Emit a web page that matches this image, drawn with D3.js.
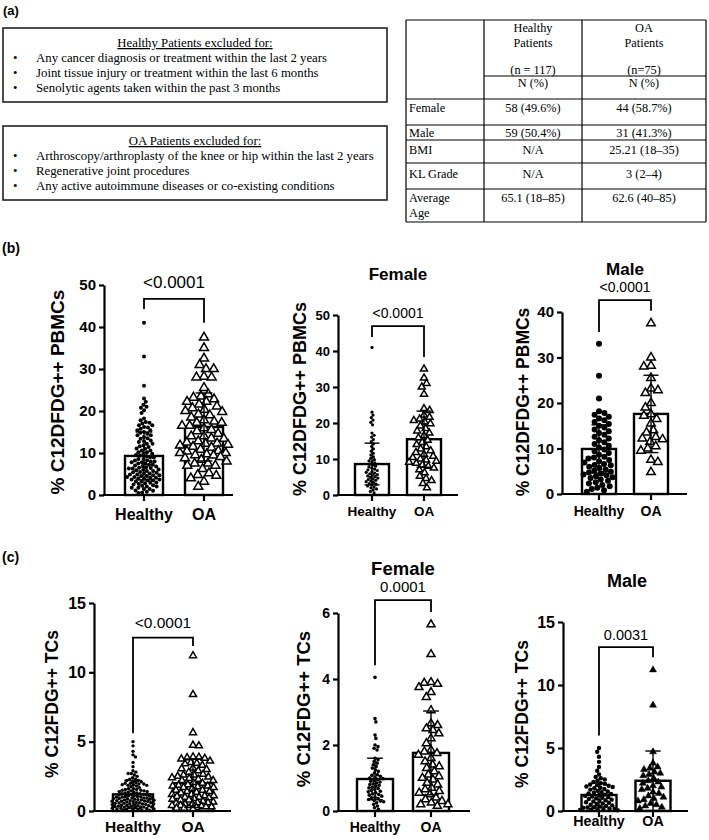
<!DOCTYPE html>
<html><head><meta charset="utf-8">
<script src="https://cdn.jsdelivr.net/npm/d3@7"></script>
<style>body{margin:0;background:#fff} svg{display:block}</style>
</head><body><svg id="fig" width="709" height="840"></svg>
<script>
// ---------------- DATA ----------------
const groups = ["Healthy", "OA"];

const healthyExclusions = [
  "Any cancer diagnosis or treatment within the last 2 years",
  "Joint tissue injury or treatment within the last 6 months",
  "Senolytic agents taken within the past 3 months"
];
const oaExclusions = [
  "Arthroscopy/arthroplasty of the knee or hip within the last 2 years",
  "Regenerative joint procedures",
  "Any active autoimmune diseases or co-existing conditions"
];
const tableHeadHealthy = ["Healthy", "Patients", "(n = 117)", "N (%)"];
const tableHeadOA = ["OA", "Patients", "(n=75)", "N (%)"];
const tableRowLabels = [["Female"], ["Male"], ["BMI"], ["KL Grade"], ["Average", "Age"]];
const tableHealthy = ["58 (49.6%)", "59 (50.4%)", "N/A", "N/A", "65.1 (18\u201385)"];
const tableOA = ["44 (58.7%)", "31 (41.3%)", "25.21 (18\u201335)", "3 (2\u20134)", "62.6 (40\u201385)"];

// % C12DFDG++ PBMCs
const femPbmcHealthy = [41, 23, 22.2, 21.5, 20.8, 20.2, 19.5, 17.2, 16.6, 16.1, 15.4, 14.8, 14.2, 13.5, 12.8, 12.2, 11.6, 11.1, 10.6, 10.2,
  9.8, 9.5, 9.2, 8.9, 8.6, 8.3, 8.0, 7.8, 7.5, 7.2, 7.0, 6.8, 6.5, 6.3, 6.1, 5.9, 5.7, 5.5, 5.3, 5.1,
  4.9, 4.7, 4.5, 4.3, 4.1, 3.9, 3.7, 3.5, 3.2, 3.0, 2.8, 2.5, 2.2, 2.0, 1.7, 1.4, 1.0, 0.6];
const femPbmcOA = [35, 32.5, 31, 30, 28, 24, 23.5, 22.2, 21.6, 21.1, 20.7, 20.3, 19.8, 19.2, 18.5, 17.8, 17.2, 16.5, 15.9, 15.2,
  14.6, 14, 13.4, 12.8, 12.3, 11.8, 11.3, 10.8, 10.4, 10, 9.7, 9.4, 9.1, 8.8, 8.4, 8, 7.5, 7, 6.2, 5.2, 4.6, 4, 3.2, 2];
const malePbmcHealthy = [33, 26, 21, 18.2, 17.8, 17.4, 17, 16.6, 16.2, 15.8, 15.4, 15, 14.6, 14.2, 13.8, 13.4, 13, 12.6, 12.2, 11.8,
  11.4, 11, 10.6, 10.2, 9.8, 9.4, 9, 8.6, 8.2, 8.0, 7.8, 7.5, 7.2, 6.9, 6.6, 6.4, 6.3, 6, 5.7, 5.4,
  5.1, 4.9, 4.7, 4.5, 4.3, 4.1, 3.9, 3.7, 3.5, 3.2, 2.9, 2.6, 2.3, 2, 1.7, 1.4, 1.1, 0.8, 0.5];
const malePbmcOA = [37.5, 30, 28.2, 28, 25.5, 23.2, 22.8, 22.2, 20, 19, 17.5, 17.2, 16.5, 15.5, 14, 13.5, 12.5, 12.2, 12, 11.5,
  10.5, 10, 9.5, 7.5, 7, 4.8];

// % C12FDG++ TCs
const femTcHealthy = [4.05, 2.8, 2.7, 2.3, 2.2, 2.0, 1.95, 1.9, 1.85, 1.6, 1.55, 1.5, 1.45, 1.4, 1.35, 1.3, 1.25, 1.2, 1.15, 1.1,
  1.08, 1.05, 1.02, 1.0, 0.98, 0.95, 0.92, 0.9, 0.88, 0.85, 0.82, 0.8, 0.78, 0.75, 0.72, 0.7, 0.68, 0.65, 0.62, 0.6,
  0.58, 0.55, 0.52, 0.5, 0.48, 0.45, 0.42, 0.4, 0.38, 0.35, 0.32, 0.3, 0.28, 0.25, 0.2, 0.15, 0.1, 0.05];
const femTcOA = [5.65, 4.75, 3.9, 3.88, 3.85, 3.75, 3.6, 3.45, 3.05, 2.65, 2.6, 2.5, 2.45, 2.35, 2.2, 2.05, 1.85, 1.8, 1.75, 1.7,
  1.6, 1.5, 1.4, 1.35, 1.3, 1.2, 1.1, 1.05, 1.0, 0.95, 0.85, 0.8, 0.7, 0.65, 0.6, 0.55, 0.5, 0.4, 0.35, 0.3, 0.25, 0.2, 0.2, 0.15];
const maleTcHealthy = [5.0, 4.7, 4.3, 3.9, 3.5, 3.2, 2.9, 2.7, 2.6, 2.5, 2.4, 2.3, 2.2, 2.15, 2.1, 2.05, 2.0, 1.95, 1.9, 1.85,
  1.8, 1.75, 1.7, 1.6, 1.55, 1.5, 1.45, 1.4, 1.35, 1.3, 1.25, 1.2, 1.15, 1.1, 1.05, 1.0, 0.95, 0.9, 0.85, 0.8,
  0.75, 0.7, 0.65, 0.6, 0.55, 0.5, 0.45, 0.4, 0.35, 0.3, 0.28, 0.25, 0.2, 0.18, 0.15, 0.12, 0.1, 0.08, 0.05];
const maleTcOA = [11.2, 8.4, 4.7, 3.8, 3.5, 3.4, 3.3, 3.1, 3.0, 2.9, 2.8, 2.6, 2.4, 2.3, 2.2, 2.0, 1.9, 1.8, 1.7, 1.5,
  1.4, 1.2, 1.1, 1.0, 0.9, 0.8, 0.6, 0.5, 0.4, 0.3, 0.2];

// bar means and SDs [Healthy, OA]
const meanPbmcAll = [9.3, 16.2], sdPbmcAll = [5.7, 8.1];
const meanPbmcFem = [8.6, 15.5], sdPbmcFem = [5.8, 7.8];
const meanPbmcMale = [9.9, 17.6], sdPbmcMale = [5.3, 8.5];
const meanTcAll = [1.2, 2.0], sdTcAll = [1.0, 1.75];
const meanTcFem = [0.97, 1.76], sdTcFem = [0.63, 1.27];
const meanTcMale = [1.27, 2.4], sdTcMale = [0.95, 2.36];

// p values and bracket values [left leg end, top, right leg end]
const pPbmc = ["<0.0001", "<0.0001", "<0.0001"];
const pTc = ["<0.0001", "0.0001", "0.0031"];
const bracketPbmc = [[44.3, 46.7, 41], [43.9, 46.9, 38.3], [35.6, 42.6, 40.3]];
const bracketTc = [[5.6, 12.5, 11.9], [4.42, 6.39, 6.03], [6.0, 13.0, 12.2]];

const ticksPbmcAll = [0, 10, 20, 30, 40, 50];
const ticksPbmcFem = [0, 10, 20, 30, 40, 50];
const ticksPbmcMale = [0, 10, 20, 30, 40];
const ticksTcAll = [0, 5, 10, 15];
const ticksTcFem = [0, 2, 4, 6];
const ticksTcMale = [0, 5, 10, 15];

// ---------------- DRAW ----------------
const svg = d3.select("#fig");
const SANS = "'Liberation Sans', Arial, sans-serif";
const SERIF = "'Liberation Serif', 'Times New Roman', serif";

function txt(x, y, s, o = {}) {
  return svg.append("text").attr("x", x).attr("y", y).text(s)
    .attr("font-family", o.ff || SANS).attr("font-size", o.fs || 12)
    .attr("font-weight", o.fw || "normal").attr("text-anchor", o.anchor || "start")
    .attr("fill", "#000");
}

// panel letters
txt(3, 15, "(a)", {fs: 13, fw: "bold"});
txt(2, 253, "(b)", {fs: 14, fw: "bold"});
txt(2, 562, "(c)", {fs: 14, fw: "bold"});

// exclusion boxes
function exclBox(top, title, items) {
  svg.append("rect").attr("x", 3).attr("y", top).attr("width", 384).attr("height", 74)
    .attr("fill", "none").attr("stroke", "#222").attr("stroke-width", 1.6);
  txt(195, top + 19, title, {ff: SERIF, fs: 12.8, anchor: "middle"}).attr("text-decoration", "underline");
  items.forEach((s, i) => {
    txt(13, top + 34 + i * 15, "\u2022", {ff: SERIF, fs: 12.8});
    txt(36, top + 34 + i * 15, s, {ff: SERIF, fs: 12.8});
  });
}
exclBox(28, "Healthy Patients excluded for:", healthyExclusions);
exclBox(126, "OA Patients excluded for:", oaExclusions);

// table
(function () {
  const x0 = 406, x1 = 484, x2 = 582, x3 = 706;
  const hl = [20, 99, 125, 140, 163, 189, 222];
  const tg = svg.append("g").attr("stroke", "#000").attr("stroke-width", 1.2);
  hl.forEach(y => tg.append("line").attr("x1", x0).attr("x2", x3).attr("y1", y).attr("y2", y));
  tg.append("line").attr("x1", x1).attr("x2", x3).attr("y1", 76).attr("y2", 76);
  [x0, x1, x2, x3].forEach(x => tg.append("line").attr("x1", x).attr("x2", x).attr("y1", 20).attr("y2", 222));
  const hb = [32, 47, 74, 87];
  tableHeadHealthy.forEach((s, i) => txt((x1 + x2) / 2, hb[i], s, {ff: SERIF, fs: 12.3, anchor: "middle"}));
  tableHeadOA.forEach((s, i) => txt((x2 + x3) / 2, hb[i], s, {ff: SERIF, fs: 12.3, anchor: "middle"}));
  const rb = [112, 137, 154, 178, 202];
  tableRowLabels.forEach((lines, i) => lines.forEach((s, j) => txt(409, rb[i] + j * 15, s, {ff: SERIF, fs: 12.3})));
  tableHealthy.forEach((s, i) => txt((x1 + x2) / 2, rb[i], s, {ff: SERIF, fs: 12.3, anchor: "middle"}));
  tableOA.forEach((s, i) => txt((x2 + x3) / 2, rb[i], s, {ff: SERIF, fs: 12.3, anchor: "middle"}));
})();

// beeswarm layout, limited to a half-width cap (points may then overlap)
function swarm(vals, y, cx, d, cap) {
  const pts = vals.map(v => ({v, py: y(v)})).sort((a, b) => a.py - b.py);
  const placed = [];
  pts.forEach((p, k) => {
    const near = placed.filter(q => Math.abs(q.py - p.py) < d);
    const blocks = near.map(q => { const dy = Math.abs(q.py - p.py); const w = Math.sqrt(d * d - dy * dy); return [q.dx - w, q.dx + w]; });
    const cands = [0];
    blocks.forEach(b => cands.push(b[0], b[1]));
    const sgn = k % 2 ? 1 : -1;
    cands.sort((a, b) => (Math.abs(a) - Math.abs(b)) || (sgn * (a - b)));
    let best = null;
    for (const c of cands) {
      if (Math.abs(c) > cap) break;
      if (blocks.every(b => c <= b[0] + 1e-6 || c >= b[1] - 1e-6)) { best = c; break; }
    }
    if (best === null) {
      let bestScore = -1; best = 0;
      for (let s = 0; s <= cap; s += 0.5) {
        for (const t of (s === 0 ? [0] : [sgn * s, -sgn * s])) {
          let m = Infinity;
          near.forEach(q => { const dd = Math.hypot(q.dx - t, q.py - p.py); if (dd < m) m = dd; });
          if (m > bestScore + 1e-6) { bestScore = m; best = t; }
        }
      }
    }
    p.dx = best; placed.push(p);
  });
  return pts.map(p => ({v: p.v, px: cx + p.dx, py: p.py}));
}

function plot(c) {
  const g = svg.append("g");
  const y = d3.scaleLinear().domain([0, c.ymax]).range([c.y0, c.y1]);
  const x = d3.scalePoint().domain(groups).range([c.c0, c.c1]);

  // bars
  g.selectAll("rect.bar").data(groups).join("rect")
    .attr("x", d => x(d) - c.bw / 2).attr("y", (d, i) => y(c.mean[i]))
    .attr("width", c.bw).attr("height", (d, i) => y(0) - y(c.mean[i]))
    .attr("fill", "#fff").attr("stroke", "#000").attr("stroke-width", 2.4);

  // healthy points
  const hp = swarm(c.h, y, x("Healthy"), c.r * 2 * 0.95, c.capH);
  g.selectAll("circle.h").data(hp).join("circle")
    .attr("cx", d => d.px).attr("cy", d => d.py).attr("r", c.r).attr("fill", "#000");

  // OA points (triangles)
  const area = Math.sqrt(3) / 4 * c.tri * c.tri;
  const tri = d3.symbol().type(d3.symbolTriangle).size(area);
  const op = swarm(c.o, y, x("OA"), c.tri * 0.85, c.capO);
  g.selectAll("path.o").data(op).join("path")
    .attr("d", tri).attr("transform", d => `translate(${d.px},${d.py})`)
    .attr("fill", c.filled ? "#000" : "#fff").attr("stroke", "#000").attr("stroke-width", c.filled ? 0.5 : 1.5);

  // error bars (mean +/- SD)
  groups.forEach((gname, i) => {
    const cx = x(gname), hw = c.bw * 0.22;
    const lo = y(c.mean[i] - c.sd[i]), hi = y(c.mean[i] + c.sd[i]);
    const eg = g.append("g").attr("stroke", "#000").attr("stroke-width", 1.4);
    eg.append("line").attr("x1", cx).attr("x2", cx).attr("y1", lo).attr("y2", hi);
    eg.append("line").attr("x1", cx - hw).attr("x2", cx + hw).attr("y1", hi).attr("y2", hi);
    eg.append("line").attr("x1", cx - hw).attr("x2", cx + hw).attr("y1", lo).attr("y2", lo);
  });

  // y axis
  const ya = g.append("g").attr("transform", `translate(${c.ax},0)`)
    .call(d3.axisLeft(y).tickValues(c.ticks).tickSize(5).tickSizeOuter(0).tickPadding(3).tickFormat(d3.format("d")));
  ya.select(".domain").attr("stroke-width", 2.2);
  ya.selectAll(".tick line").attr("stroke-width", 2.2);
  ya.selectAll(".tick text").attr("font-family", SANS).attr("font-size", c.tfs).attr("font-weight", "bold").attr("fill", "#000");

  // x axis baseline + category ticks + labels
  g.append("line").attr("x1", c.ax - 1.1).attr("x2", c.xend).attr("y1", y(0)).attr("y2", y(0))
    .attr("stroke", "#000").attr("stroke-width", 2.2);
  g.selectAll("line.xt").data(groups).join("line")
    .attr("x1", d => x(d)).attr("x2", d => x(d)).attr("y1", y(0)).attr("y2", y(0) + 6)
    .attr("stroke", "#000").attr("stroke-width", 2.2);
  g.selectAll("text.xl").data(groups).join("text")
    .attr("x", d => x(d)).attr("y", c.xlb).text(d => d)
    .attr("text-anchor", "middle").attr("font-family", SANS).attr("font-size", c.xfs).attr("font-weight", "bold");

  // y label
  g.append("text").attr("transform", `translate(${c.lx},${c.ly}) rotate(-90)`)
    .attr("text-anchor", "middle").attr("dominant-baseline", "central")
    .attr("font-family", SANS).attr("font-size", c.lfs).attr("font-weight", "bold").text(c.lab);

  // significance bracket
  const bx0 = x("Healthy"), bx1 = x("OA");
  g.append("path").attr("d", `M${bx0},${y(c.br[0])}V${y(c.br[1])}H${bx1}V${y(c.br[2])}`)
    .attr("fill", "none").attr("stroke", "#000").attr("stroke-width", 1.8);
  g.append("text").attr("x", (bx0 + bx1) / 2).attr("y", c.pb).text(c.p)
    .attr("text-anchor", "middle").attr("font-family", SANS).attr("font-size", c.pfs);

  // title
  if (c.title) {
    g.append("text").attr("x", c.tx).attr("y", c.tb).text(c.title)
      .attr("text-anchor", "middle").attr("font-family", SANS).attr("font-size", c.titfs).attr("font-weight", "bold");
  }
}

const labP = "% C12DFDG++ PBMCs", labT = "% C12FDG++ TCs";

plot({h: femPbmcHealthy.concat(malePbmcHealthy), o: femPbmcOA.concat(malePbmcOA),
  mean: meanPbmcAll, sd: sdPbmcAll, ticks: ticksPbmcAll, ymax: 50, br: bracketPbmc[0], p: pPbmc[0],
  ax: 104, c0: 144, c1: 204, bw: 38, xend: 233, y0: 495, y1: 285, capH: 22, capO: 24,
  tfs: 15, xfs: 16, xlb: 520, pfs: 17, pb: 288, lab: labP, lfs: 19, lx: 57, ly: 392, r: 2.0, tri: 9});
plot({h: femPbmcHealthy, o: femPbmcOA,
  mean: meanPbmcFem, sd: sdPbmcFem, ticks: ticksPbmcFem, ymax: 50, br: bracketPbmc[1], p: pPbmc[1],
  ax: 338, c0: 372, c1: 424, bw: 34, xend: 458, y0: 495, y1: 315, capH: 14, capO: 19,
  tfs: 13, xfs: 13.5, xlb: 516, pfs: 14, pb: 318, lab: labP, lfs: 18, lx: 300, ly: 399, r: 1.6, tri: 7,
  title: "Female", titfs: 17, tb: 280, tx: 398});
plot({h: malePbmcHealthy, o: malePbmcOA,
  mean: meanPbmcMale, sd: sdPbmcMale, ticks: ticksPbmcMale, ymax: 40, br: bracketPbmc[2], p: pPbmc[2],
  ax: 562, c0: 599, c1: 651, bw: 34, xend: 687, y0: 494, y1: 312, capH: 20, capO: 18,
  tfs: 15, xfs: 14, xlb: 516, pfs: 14, pb: 292, lab: labP, lfs: 17.5, lx: 523, ly: 402, r: 3.0, tri: 8.5,
  title: "Male", titfs: 17, tb: 275, tx: 625});

plot({h: femTcHealthy.concat(maleTcHealthy), o: femTcOA.concat(maleTcOA),
  mean: meanTcAll, sd: sdTcAll, ticks: ticksTcAll, ymax: 15, br: bracketTc[0], p: pTc[0],
  ax: 94, c0: 133, c1: 193, bw: 40, xend: 231, y0: 811, y1: 603, capH: 21, capO: 21,
  tfs: 16, xfs: 15.5, xlb: 832, pfs: 15.5, pb: 628, lab: labT, lfs: 17.5, lx: 52, ly: 704, r: 1.7, tri: 7});
plot({h: femTcHealthy, o: femTcOA,
  mean: meanTcFem, sd: sdTcFem, ticks: ticksTcFem, ymax: 6, br: bracketTc[1], p: pTc[1],
  ax: 338, c0: 375, c1: 431, bw: 36, xend: 470, y0: 811, y1: 613, capH: 18, capO: 20,
  tfs: 14, xfs: 14, xlb: 832, pfs: 15, pb: 592, lab: labT, lfs: 18.5, lx: 303, ly: 709, r: 1.8, tri: 8,
  title: "Female", titfs: 18.5, tb: 575, tx: 403});
plot({h: maleTcHealthy, o: maleTcOA,
  mean: meanTcMale, sd: sdTcMale, ticks: ticksTcMale, ymax: 15, br: bracketTc[2], p: pTc[2],
  ax: 563, c0: 599, c1: 653, bw: 35, xend: 688, y0: 811, y1: 622, capH: 19, capO: 18,
  tfs: 16, xfs: 14.3, xlb: 826, pfs: 14.5, pb: 640, lab: labT, lfs: 17.5, lx: 522, ly: 714, r: 2.2, tri: 7, filled: true,
  title: "Male", titfs: 18, tb: 587, tx: 627});
</script>
</body></html>
